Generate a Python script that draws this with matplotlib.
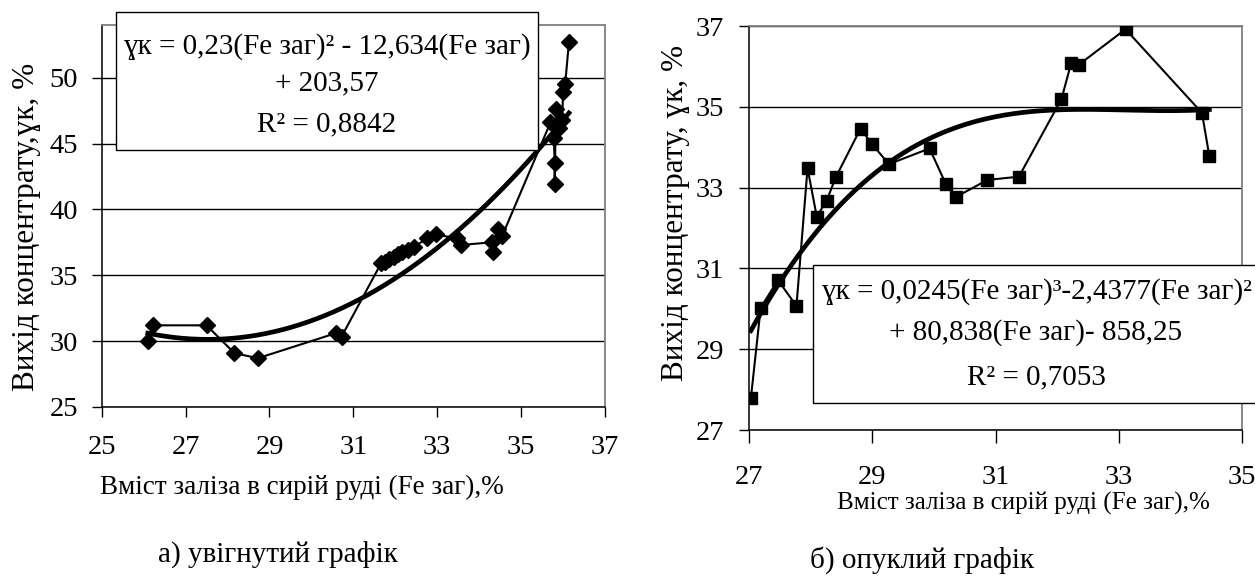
import matplotlib
matplotlib.use("Agg")
import matplotlib.pyplot as plt
import numpy as np
from matplotlib.patches import Rectangle

plt.rcParams["font.family"] = ["Liberation Serif", "DejaVu Serif"]

W, H = 1255, 577

# a) concave chart data
fe_a = [26.10, 26.22, 27.50, 28.16, 28.72, 30.58, 30.72, 31.66, 31.76, 31.86, 31.96,
        32.06, 32.16, 32.30, 32.44, 32.76, 32.96, 33.48, 33.56, 34.30, 34.34, 34.44,
        34.55, 35.70, 35.78, 35.80, 35.80, 35.83, 35.90, 35.98, 36.00, 36.05, 36.14]
yk_a = [30.0, 31.2, 31.2, 29.1, 28.7, 30.6, 30.35, 35.9, 36.0, 36.2, 36.4,
        36.6, 36.75, 36.95, 37.15, 37.8, 38.1, 37.8, 37.3, 37.5, 36.75, 38.5,
        38.0, 46.6, 45.4, 43.5, 41.9, 47.6, 46.2, 46.8, 48.9, 49.5, 52.7]

# b) convex chart data
fe_b = [27.03, 27.19, 27.47, 27.77, 27.95, 28.10, 28.26, 28.41, 28.81, 28.99, 29.27,
        29.93, 30.19, 30.36, 30.87, 31.38, 32.07, 32.23, 32.35, 33.11, 34.35, 34.47]
yk_b = [27.78, 30.03, 30.71, 30.07, 33.48, 32.28, 32.68, 33.26, 34.46, 34.09, 33.58,
        33.97, 33.10, 32.77, 33.19, 33.27, 35.19, 36.09, 36.04, 36.92, 34.85, 33.78]

eq_a = ["ɣк = 0,23(Fe заг)² - 12,634(Fe заг)", "+ 203,57", "R² = 0,8842"]
eq_b = ["ɣк = 0,0245(Fe заг)³-2,4377(Fe заг)²", "+ 80,838(Fe заг)- 858,25", "R² = 0,7053"]
xlabel = "Вміст заліза в сирій руді (Fe заг),%"
ylabel_a = "Вихід концентрату,ɣк, %"
ylabel_b = "Вихід концентрату, ɣк, %"
caption_a = "а) увігнутий графік"
caption_b = "б) опуклий графік"


def fx(px):
    return px / W


def fy(py):
    return 1 - py / H


def ax_rect(left, top, right, bottom):
    return [fx(left), fy(bottom), fx(right) - fx(left), fy(top) - fy(bottom)]


def style_axes(ax, tick_size, xlen, xpad, ypad):
    ax.grid(axis="y", color="black", linewidth=1.0)
    ax.set_axisbelow(True)
    for side in ("top", "right"):
        ax.spines[side].set_color("#808080")
        ax.spines[side].set_linewidth(1.3)
    for side in ("left", "bottom"):
        ax.spines[side].set_color("black")
        ax.spines[side].set_linewidth(1.1)
    ax.tick_params(axis="x", direction="out", length=xlen, width=1, labelsize=tick_size, pad=xpad)
    ax.tick_params(axis="y", direction="out", length=7, width=1, labelsize=tick_size, pad=ypad)


fig = plt.figure(figsize=(W / 100, H / 100), dpi=100)

# ---- a) ----
ax1 = fig.add_axes(ax_rect(101.7, 25, 605, 407))
xa = np.array(fe_a)
ya = np.array(yk_a)
ca = np.polyfit(xa, ya, 2)
xs = np.linspace(xa.min(), xa.max(), 200)
ax1.plot(xs, np.polyval(ca, xs), color="black", linewidth=3.4, zorder=3)
ax1.plot(xa, ya, color="black", linewidth=1.5, marker="D", markersize=8.5, zorder=4)
ax1.set_xlim(25, 37)
ax1.set_ylim(25, 54)
ax1.set_xticks(np.arange(25, 38, 2))
ax1.set_yticks(np.arange(25, 51, 5))
style_axes(ax1, 20.5, 7, 13, 10)

# ---- b) ----
ax2 = fig.add_axes(ax_rect(749, 26, 1242, 430))
xb = np.array(fe_b)
yb = np.array(yk_b)
cb = np.polyfit(xb, yb, 3)
xs = np.linspace(xb.min(), xb.max(), 200)
ax2.plot(xs, np.polyval(cb, xs), color="black", linewidth=3.4, zorder=3)
ax2.plot(xb, yb, color="black", linewidth=1.5, marker="s", markersize=8.5, zorder=4)
ax2.set_xlim(27, 35)
ax2.set_ylim(27, 37)
ax2.set_xticks(np.arange(27, 36, 2))
ax2.set_yticks(np.arange(27, 38, 2))
style_axes(ax2, 20.5, 9, 16, 11)

# equation boxes
fig.patches.append(Rectangle((fx(116), fy(150)), fx(538) - fx(116), fy(12) - fy(150),
                             transform=fig.transFigure, facecolor="white",
                             edgecolor="black", linewidth=1.0, zorder=5))
fig.patches.append(Rectangle((fx(813), fy(403)), fx(1262) - fx(813), fy(265) - fy(403),
                             transform=fig.transFigure, facecolor="white",
                             edgecolor="black", linewidth=1.0, zorder=5))
for txt, py in zip(eq_a, [47, 83, 124]):
    fig.text(fx(327), fy(py), txt, ha="center", va="center", fontsize=21, zorder=6)
for txt, py in zip(eq_b, [292, 333, 377]):
    fig.text(fx(1036), fy(py), txt, ha="center", va="center", fontsize=21, zorder=6)

# axis titles and captions
fig.text(fx(302), fy(487), xlabel, ha="center", va="center", fontsize=19.5)
fig.text(fx(1023), fy(503), xlabel, ha="center", va="center", fontsize=18)
fig.text(fx(27), fy(227), ylabel_a, ha="center", va="center", rotation=90, fontsize=22.5)
fig.text(fx(675), fy(213), ylabel_b, ha="center", va="center", rotation=90, fontsize=22.5)
fig.text(fx(278), fy(554), caption_a, ha="center", va="center", fontsize=21)
fig.text(fx(922), fy(560), caption_b, ha="center", va="center", fontsize=21)

fig.savefig("out.png", dpi=100)
